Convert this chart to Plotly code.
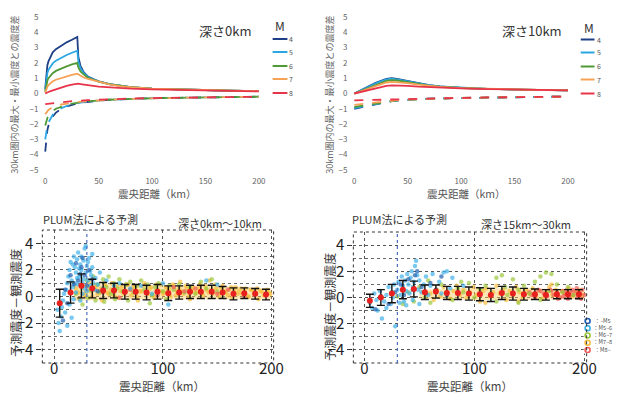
import plotly.graph_objects as go

W, H = 636, 394
FONT = "Noto Sans CJK JP"

# ---------------- Top panels data ----------------
mags = ["4", "5", "6", "7", "8"]
mag_colors = ["#1f3f86", "#2aa6e2", "#4f9a35", "#f5a257", "#e8344a"]

dist0 = [0, 1, 2, 3, 5, 7, 10, 15, 20, 25, 30, 31, 33, 36, 40, 45, 50, 60, 70, 80, 100, 125, 150, 175, 200]
max0_m4 = [0.3, 1.4, 1.85, 2.1, 2.45, 2.7, 2.9, 3.15, 3.35, 3.52, 3.7, 2.4, 1.8, 1.4, 1.1, 0.95, 0.8, 0.62, 0.5, 0.42, 0.32, 0.26, 0.22, 0.18, 0.15]
max0_m5 = [0.2, 1.0, 1.35, 1.55, 1.8, 1.97, 2.15, 2.35, 2.52, 2.67, 2.8, 2.1, 1.65, 1.35, 1.08, 0.93, 0.8, 0.62, 0.5, 0.42, 0.32, 0.26, 0.22, 0.18, 0.15]
max0_m6 = [0.1, 0.6, 0.85, 1.0, 1.2, 1.33, 1.48, 1.65, 1.78, 1.9, 2.0, 1.7, 1.45, 1.25, 1.03, 0.9, 0.78, 0.61, 0.5, 0.42, 0.32, 0.26, 0.22, 0.18, 0.15]
max0_m7 = [0.05, 0.3, 0.45, 0.55, 0.7, 0.8, 0.9, 1.02, 1.12, 1.22, 1.3, 1.25, 1.15, 1.05, 0.95, 0.85, 0.75, 0.6, 0.49, 0.41, 0.31, 0.26, 0.21, 0.18, 0.15]
max0_m8 = [0.0, 0.05, 0.08, 0.1, 0.15, 0.2, 0.28, 0.4, 0.5, 0.58, 0.65, 0.64, 0.62, 0.58, 0.55, 0.5, 0.45, 0.4, 0.35, 0.32, 0.27, 0.23, 0.2, 0.17, 0.14]
min0_m4 = [-3.8, -2.8, -2.4, -2.1, -1.75, -1.5, -1.25, -1.0, -0.85, -0.73, -0.65, -0.64, -0.62, -0.58, -0.53, -0.49, -0.46, -0.41, -0.38, -0.35, -0.31, -0.28, -0.25, -0.23, -0.21]
min0_m5 = [-3.0, -2.4, -2.1, -1.9, -1.6, -1.4, -1.18, -0.96, -0.82, -0.71, -0.63, -0.62, -0.6, -0.57, -0.53, -0.49, -0.46, -0.41, -0.38, -0.35, -0.31, -0.28, -0.25, -0.23, -0.21]
min0_m6 = [-2.1, -1.8, -1.6, -1.45, -1.28, -1.15, -1.0, -0.85, -0.74, -0.66, -0.6, -0.59, -0.58, -0.56, -0.52, -0.48, -0.45, -0.41, -0.38, -0.35, -0.31, -0.28, -0.25, -0.23, -0.21]
min0_m7 = [-1.35, -1.25, -1.15, -1.08, -0.98, -0.9, -0.82, -0.72, -0.65, -0.6, -0.56, -0.55, -0.54, -0.53, -0.5, -0.47, -0.44, -0.4, -0.37, -0.35, -0.31, -0.28, -0.25, -0.23, -0.21]
min0_m8 = [-0.7, -0.69, -0.68, -0.67, -0.65, -0.63, -0.6, -0.56, -0.53, -0.5, -0.48, -0.48, -0.47, -0.46, -0.44, -0.42, -0.4, -0.37, -0.35, -0.33, -0.3, -0.27, -0.25, -0.23, -0.21]

dist10 = [0, 10, 20, 30, 35, 40, 50, 60, 70, 80, 100, 125, 150, 175, 200]
max10_m4 = [0.0, 0.35, 0.7, 0.95, 1.0, 0.95, 0.82, 0.68, 0.55, 0.47, 0.37, 0.3, 0.26, 0.23, 0.2]
max10_m5 = [0.0, 0.33, 0.67, 0.92, 0.97, 0.93, 0.8, 0.66, 0.54, 0.46, 0.37, 0.3, 0.26, 0.23, 0.2]
max10_m6 = [0.0, 0.28, 0.57, 0.82, 0.87, 0.85, 0.75, 0.63, 0.52, 0.45, 0.36, 0.3, 0.26, 0.23, 0.2]
max10_m7 = [0.0, 0.25, 0.5, 0.72, 0.76, 0.75, 0.68, 0.58, 0.5, 0.43, 0.35, 0.3, 0.26, 0.23, 0.2]
max10_m8 = [0.0, 0.18, 0.35, 0.5, 0.53, 0.53, 0.5, 0.45, 0.41, 0.38, 0.33, 0.29, 0.25, 0.22, 0.2]
min10_m4 = [-1.0, -0.85, -0.7, -0.55, -0.5, -0.46, -0.41, -0.37, -0.34, -0.32, -0.29, -0.26, -0.24, -0.22, -0.2]
min10_m5 = [-0.95, -0.82, -0.68, -0.54, -0.5, -0.46, -0.41, -0.37, -0.34, -0.32, -0.29, -0.26, -0.24, -0.22, -0.2]
min10_m6 = [-0.88, -0.77, -0.65, -0.52, -0.48, -0.45, -0.4, -0.37, -0.34, -0.32, -0.29, -0.26, -0.24, -0.22, -0.2]
min10_m7 = [-0.75, -0.67, -0.58, -0.5, -0.47, -0.44, -0.4, -0.36, -0.34, -0.32, -0.29, -0.26, -0.24, -0.22, -0.2]
min10_m8 = [-0.45, -0.44, -0.43, -0.41, -0.4, -0.39, -0.37, -0.35, -0.33, -0.31, -0.28, -0.26, -0.24, -0.22, -0.2]

# ---------------- Bottom panels data ----------------
bins = [5, 15, 25, 35, 45, 55, 65, 75, 85, 95, 105, 115, 125, 135, 145, 155, 165, 175, 185, 195]
bl_mean = [-0.5, 0.3, 0.8, 0.6, 0.45, 0.45, 0.35, 0.35, 0.3, 0.35, 0.25, 0.3, 0.35, 0.35, 0.35, 0.3, 0.2, 0.25, 0.2, 0.15]
bl_err = [1.05, 0.8, 0.9, 0.7, 0.6, 0.55, 0.55, 0.55, 0.55, 0.55, 0.55, 0.5, 0.5, 0.5, 0.5, 0.45, 0.45, 0.4, 0.4, 0.4]
br_mean = [-0.25, 0.0, 0.3, 0.6, 0.65, 0.4, 0.45, 0.35, 0.35, 0.3, 0.25, 0.2, 0.35, 0.3, 0.25, 0.25, 0.2, 0.25, 0.25, 0.25]
br_err = [0.5, 0.6, 0.7, 0.7, 0.6, 0.55, 0.5, 0.5, 0.5, 0.5, 0.5, 0.5, 0.5, 0.5, 0.45, 0.4, 0.4, 0.35, 0.35, 0.35]

class_names = ["：~M5", "：M5~6", "：M6~7", "：M7~8", "：M8~"]
class_colors = ["#1f5fb0", "#3fb0e8", "#9cc83c", "#f7bd3c", "#f05a5a"]
class_rank = [5, 4, 3, 2, 1]

bl_band_x = [18, 30, 60, 100, 150, 200]
bl_band_lo = [-0.3, -0.3, -0.2, -0.2, -0.2, -0.2]
bl_band_hi = [0.9, 1.0, 0.9, 0.8, 0.8, 0.6]
br_band_x = [50, 100, 150, 200]
br_band_lo = [-0.1, -0.2, -0.2, -0.1]
br_band_hi = [0.6, 0.7, 0.7, 0.6]

bl_m5_x = [8, 10, 12, 15, 18, 20, 22, 24, 25, 26, 28, 30, 32, 35, 40]
bl_m5_y = [-1.8, 0.5, -0.5, 1.6, 0.9, 2.5, 1.2, 1.7, 2.2, 2.9, 1.6, 0.8, 2.0, 1.3, 0.4]
bl_m56_x = [3, 4, 5, 6, 7, 8, 9, 10, 11, 12, 12, 13, 14, 14, 15, 16, 16, 17, 17, 18, 18, 19, 19, 20, 20, 21, 21, 22, 22, 23,
            23, 24, 24, 25, 25, 26, 26, 27, 27, 28, 28, 29, 29, 30, 30, 31, 31, 32, 33, 33, 34, 35, 35, 36, 37, 38, 40, 42, 45, 48,
            55, 60, 70, 80, 90, 100, 105, 140, 150]
bl_m56_y = [-1.0, -2.0, -2.6, -1.5, -0.8, -0.3, 0.2, -1.2, 0.5, 1.0, -2.2, 1.5, 2.0, -0.6, 2.6, 1.2, -1.6, 0.7, 2.4, 3.0,
            -0.2, 2.2, 1.0, 1.8, 0.3, 2.8, 1.4, 3.3, 0.9, 1.5, 2.1, 2.4, -0.3, 2.0, 3.0, 1.0, 0.2, 2.7, 1.3, 3.6,
            0.6, 1.8, 3.8, 2.3, 0.4, 1.2, 2.6, 2.9, 0.8, 1.9, 1.6, 2.2, 3.2, 1.0, 0.5, 1.4, 0.9, 1.8, 0.6, 1.2,
            0.8, 1.0, 0.6, 0.8, 0.2, 1.0, -0.6, 1.2, 0.9]
bl_m67_x = [20, 25, 30, 33, 36, 40, 42, 45, 48, 50, 52, 55, 58, 60, 63, 66, 70, 73, 76, 80, 83, 86, 90, 93, 96, 100, 103, 106,
            110, 115, 120, 125, 130, 135, 140, 145, 150, 38, 46, 56, 68, 88, 26, 31]
bl_m67_y = [0.2, 0.8, 1.2, 0.5, 1.5, 0.9, 0.3, 1.3, 0.7, 1.5, 0.2, 1.0, 0.6, 1.3, 0.4, 0.9, 1.1, 0.3, 0.8, 1.2, 0.5, 0.9, 0.1,
            0.7, 1.0, 0.4, -0.2, 0.8, 0.5, 0.9, 0.3, 0.7, 0.2, 1.1, 0.6, 1.3, 0.4, -0.3, -0.4, -0.2, -0.3, -0.5, -0.6, -0.1]
bl_m78_x = [20, 23, 26, 29, 32, 35, 38, 41, 44, 47, 50, 53, 56, 59, 62, 65, 68, 71, 74, 77, 80, 83, 86, 89, 92, 95, 98, 101,
            104, 107, 110, 113, 116, 119, 122, 125, 128, 131, 134, 137, 140, 143, 146, 149, 152, 155, 158, 161, 164, 167,
            170, 173, 176, 179, 182, 185, 188, 191, 194, 197,
            22, 25, 28, 31, 34, 37, 40, 43, 46, 49, 52, 55, 58, 61, 64, 67, 70, 73, 76, 79, 82, 85, 88, 91, 94, 97, 100, 103,
            106, 109, 112, 115, 118, 121, 124, 127, 130, 133, 136, 139, 142, 145, 148, 151, 154, 157, 160, 163, 166, 169,
            172, 175, 178, 181, 184, 187, 190, 193, 196, 199]
bl_m78_y = [0.6, -0.2, 0.9, 0.3, 1.1, 0.0, 0.7, 0.4, -0.3, 0.8, 0.2, 1.0, 0.5, -0.1, 0.7, 0.3, 0.9, 0.1, 0.6, -0.3,
            0.4, 1.0, 0.2, 0.7, -0.1, 0.5, 0.9, 0.3, 0.6, 0.0, 0.8, 0.4, 1.1, 0.2, 0.6, -0.2, 0.7, 0.3, 0.9, 0.1,
            0.5, 1.2, 0.2, 0.6, 0.0, 0.8, 0.3, 0.5, -0.1, 0.7, 0.4, 0.2, 0.6, 0.0, 0.5, 0.3, -0.2, 0.4, 0.1, 0.3,
            0.3, 0.7, 0.1, 0.8, 0.4, 0.9, 0.2, 0.6, 1.0, 0.3, 0.5, 0.1, 0.8, 0.4, 0.2, 0.9, 0.5, 0.7, 0.0, 0.4,
            0.8, 0.3, 0.6, 0.1, 0.9, 0.4, 0.2, 0.7, 0.5, 0.9, 0.1, 0.6, 0.4, 0.8, 0.0, 0.5, 0.3, 0.6, 0.2, 0.8,
            0.3, 0.5, 0.9, 0.2, 0.6, 0.4, 0.1, 0.7, 0.5, 0.2, 0.6, 0.3, 0.0, 0.5, 0.2, 0.6, 0.4, 0.1, 0.5, 0.2]
bl_m8_x = [45, 70, 95, 120, 130, 150, 160, 175, 185, 195, 60, 110]
bl_m8_y = [0.3, 0.5, 0.1, 0.4, 0.6, 0.2, 0.5, 0.0, 0.3, 0.2, -0.1, 0.7]

br_m5_x = [10, 15, 22, 28, 33, 36, 40, 44, 48, 52, 56, 60, 65, 70, 75, 46]
br_m5_y = [-0.9, 0.1, -0.5, 0.4, 1.0, 0.2, 1.4, 0.6, 2.0, 0.8, 0.3, 1.1, 0.6, 1.6, 0.2, 1.7]
br_m56_x = [5, 7, 9, 11, 12, 14, 16, 18, 20, 22, 24, 25, 27, 28, 30, 31, 33, 34, 35, 36, 37, 38, 39, 40, 41, 42, 43, 44, 45,
            46, 47, 48, 49, 50, 52, 54, 56, 58, 60, 62, 65, 68, 70, 72, 75, 78, 80, 85, 90, 38, 44, 50, 20, 26, 32]
br_m56_y = [-0.4, -0.8, 0.3, -0.2, -1.0, 0.5, -1.6, -0.3, 0.2, 0.8, -0.5, 0.4, 1.0, -2.2, 0.6, 1.2, 0.2, 1.6, 0.9, -0.3,
            1.3, 0.5, 1.8, 1.0, 0.3, 1.5, 2.0, 0.8, 1.2, 2.4, 2.8, 1.7, 0.6, 1.3, 0.4, 1.0, 1.6, 0.2, 0.9, 1.8,
            0.5, 1.2, 0.3, 1.9, 2.0, 0.7, 1.5, 0.4, 0.9, -0.6, -0.2, -0.5, -0.8, 0.0, -0.4]
br_m67_x = [30, 35, 40, 45, 50, 55, 60, 65, 70, 75, 80, 85, 90, 95, 100, 105, 110, 115, 120, 125, 128, 130, 135, 140, 145,
            150, 155, 160, 165, 168, 170, 175, 180, 185, 190, 120, 140, 160, 58, 88]
br_m67_y = [0.1, -0.5, 0.4, -0.3, 0.8, 0.0, -0.4, 0.6, 1.0, 0.2, -0.2, 0.7, 0.4, 1.1, 0.0, 0.6, 0.9, 0.3, 1.5, 1.7,
            0.8, 0.2, 1.4, 0.6, 0.9, 0.3, 1.2, 1.6, 1.9, 0.5, 1.8, 1.0, 0.4, 0.8, 0.2, -0.3, -0.4, -0.2, 1.3, 1.2]
br_m78_x = [60, 63, 66, 69, 72, 75, 78, 81, 84, 87, 90, 93, 96, 99, 102, 105, 108, 111, 114, 117, 120, 123, 126, 129, 132,
            135, 138, 141, 144, 147, 150, 153, 156, 159, 162, 165, 168, 171, 174, 177, 180, 183, 186, 189, 192, 195, 198,
            110, 140, 170]
br_m78_y = [0.3, -0.2, 0.6, 0.1, 0.8, 0.4, -0.1, 0.5, 0.9, 0.2, 0.6, 0.0, 0.4, 0.8, 0.2, -0.3, 0.5, 0.7, 0.1, 0.4,
            0.9, 0.3, 0.6, -0.2, 0.5, 0.2, 0.8, 0.4, 0.0, 0.6, 0.3, 0.7, 0.1, 0.5, -0.1, 0.4, 0.8, 0.2, 0.6, 0.0,
            0.5, 0.3, 0.7, 0.1, 0.4, 0.6, 0.2, -0.4, -0.3, 1.0]
br_m8_x = [145, 150, 155, 160, 163, 166, 169, 172, 175, 178, 180, 182, 184, 186, 188, 190, 192, 194, 196, 198, 200, 176,
           185, 193, 158, 170, 181, 189, 197, 152]
br_m8_y = [0.2, 0.4, 0.0, 0.5, 0.3, 0.1, 0.6, 0.2, 0.4, 0.0, 0.5, 0.3, 0.6, 0.1, 0.4, 0.2, 0.5, 0.0, 0.3, 0.6, 0.2, -0.1,
           -0.1, 0.7, 0.6, 0.5, 0.1, 0.6, -0.1, 0.2]

x_ticks_top = [0, 50, 100, 150, 200]
y_ticks_top = [-5, -4, -3, -2, -1, 0, 1, 2, 3, 4, 5]
x_ticks_bot = [0, 100, 200]
y_ticks_bot = [-4, -2, 0, 2, 4]


def px(x):
    return x / W


def py(y):
    return 1 - y / H


fig = go.Figure()

# ---- top panels lines ----
top_max0 = [max0_m4, max0_m5, max0_m6, max0_m7, max0_m8]
top_min0 = [min0_m4, min0_m5, min0_m6, min0_m7, min0_m8]
top_max10 = [max10_m4, max10_m5, max10_m6, max10_m7, max10_m8]
top_min10 = [min10_m4, min10_m5, min10_m6, min10_m7, min10_m8]

for i in range(5):
    fig.add_trace(go.Scatter(x=dist0, y=top_min0[i], mode="lines", xaxis="x", yaxis="y",
                             line=dict(color=mag_colors[i], width=1.8, dash="dash"), showlegend=False))
for i in range(5):
    fig.add_trace(go.Scatter(x=dist0, y=top_max0[i], mode="lines", xaxis="x", yaxis="y",
                             line=dict(color=mag_colors[i], width=1.8), showlegend=False))
for i in range(5):
    fig.add_trace(go.Scatter(x=dist10, y=top_min10[i], mode="lines", xaxis="x2", yaxis="y2",
                             line=dict(color=mag_colors[i], width=1.8, dash="dash"), showlegend=False))
for i in range(5):
    fig.add_trace(go.Scatter(x=dist10, y=top_max10[i], mode="lines", xaxis="x2", yaxis="y2",
                             line=dict(color=mag_colors[i], width=1.8), showlegend=False))


# ---- bottom panels ----
def add_band(bx, lo, hi, xa, ya):
    fig.add_trace(go.Scatter(x=bx, y=lo, mode="lines", line=dict(width=0, color="rgba(0,0,0,0)"),
                             xaxis=xa, yaxis=ya, showlegend=False, hoverinfo="skip"))
    fig.add_trace(go.Scatter(x=bx, y=hi, mode="lines", line=dict(width=0, color="rgba(0,0,0,0)"),
                             fill="tonexty", fillcolor="rgba(250,200,90,0.45)",
                             xaxis=xa, yaxis=ya, showlegend=False, hoverinfo="skip"))


def add_pts(xs, ys, color, xa, ya, size=4.5, op=0.7):
    fig.add_trace(go.Scatter(x=xs, y=ys, mode="markers", xaxis=xa, yaxis=ya, showlegend=False,
                             marker=dict(color=color, size=size, opacity=op, line=dict(width=0))))


add_band(bl_band_x, bl_band_lo, bl_band_hi, "x3", "y3")
add_pts(bl_m78_x, bl_m78_y, class_colors[3], "x3", "y3")
add_pts(bl_m67_x, bl_m67_y, class_colors[2], "x3", "y3")
add_pts(bl_m8_x, bl_m8_y, class_colors[4], "x3", "y3")
add_pts(bl_m56_x, bl_m56_y, class_colors[1], "x3", "y3")
add_pts(bl_m5_x, bl_m5_y, class_colors[0], "x3", "y3")

add_band(br_band_x, br_band_lo, br_band_hi, "x4", "y4")
add_pts(br_m78_x, br_m78_y, class_colors[3], "x4", "y4")
add_pts(br_m8_x, br_m8_y, class_colors[4], "x4", "y4")
add_pts(br_m67_x, br_m67_y, class_colors[2], "x4", "y4")
add_pts(br_m56_x, br_m56_y, class_colors[1], "x4", "y4")
add_pts(br_m5_x, br_m5_y, class_colors[0], "x4", "y4")

for xa, ya, mean, err in [("x3", "y3", bl_mean, bl_err), ("x4", "y4", br_mean, br_err)]:
    fig.add_trace(go.Scatter(x=bins, y=mean, mode="markers", xaxis=xa, yaxis=ya, showlegend=False,
                             marker=dict(color="#e8201e", size=6),
                             error_y=dict(type="data", array=err, color="#111", thickness=1.4, width=4)))

# class legend markers (tiny overlay axis)
fig.add_trace(go.Scatter(x=[0.5] * 5, y=class_rank, mode="markers", xaxis="x5", yaxis="y5", showlegend=False,
                         marker=dict(symbol="circle-open", size=5, color=class_colors, line=dict(width=1.6))))

# ---- axes ----
top_common = dict(showgrid=False, zeroline=False, showline=False, ticks="",
                  tickfont=dict(family=FONT, size=8, color="#666"))
bot_x_common = dict(range=[-11, 202], tickvals=x_ticks_bot, showgrid=True, gridcolor="#555", griddash="dot",
                    gridwidth=1, zeroline=False, showline=False, ticks="", ticklabelstandoff=-5,
                    tickfont=dict(family=FONT, size=15, color="#222"))
bot_y_common = dict(range=[-5, 5], tickvals=y_ticks_bot, showgrid=True, gridcolor="#555", griddash="dot",
                    gridwidth=1, zeroline=False, showline=False, ticks="outside", ticklen=5, tickcolor="#333",
                    tickfont=dict(family=FONT, size=15, color="#222"),
                    minor=dict(dtick=1, showgrid=True, gridcolor="#666", griddash="dot", gridwidth=1))

fig.update_layout(
    width=W, height=H, margin=dict(l=0, r=0, t=0, b=0),
    paper_bgcolor="white", plot_bgcolor="white",
    font=dict(family=FONT),
    xaxis=dict(domain=[px(40), px(272)], range=[-5.5, 208.3], tickvals=x_ticks_top, anchor="y",
               ticklabelstandoff=-3, **top_common),
    yaxis=dict(domain=[py(177.5), py(9.5)], range=[-5.5, 5.5], tickvals=y_ticks_top, anchor="x", **top_common),
    xaxis2=dict(domain=[px(354), px(586)], range=[-5.5, 208.3], tickvals=x_ticks_top, anchor="y2",
                ticklabelstandoff=-3, **top_common),
    yaxis2=dict(domain=[py(177.5), py(9.5)], range=[-5.5, 5.5], tickvals=y_ticks_top, anchor="x2", **top_common),
    xaxis3=dict(domain=[px(43), px(278)], anchor="y3", **bot_x_common),
    yaxis3=dict(domain=[py(363), py(230)], anchor="x3", **bot_y_common),
    xaxis4=dict(domain=[px(359), px(596)], anchor="y4", **dict(bot_x_common, range=[-10, 202])),
    yaxis4=dict(domain=[py(363), py(232)], anchor="x4", **bot_y_common),
    xaxis5=dict(domain=[px(593), px(601)], range=[0, 1], visible=False, anchor="y5"),
    yaxis5=dict(domain=[py(353.6), py(317.4)], range=[0.5, 5.5], visible=False, anchor="x5"),
)

shapes = []
for xa, ya in [("x3", "y3"), ("x4", "y4")]:
    shapes.append(dict(type="rect", xref=f"{xa} domain", yref=f"{ya} domain", x0=0, x1=1, y0=0, y1=1,
                       line=dict(color="#333", width=1, dash="dot")))
    shapes.append(dict(type="line", xref=xa, yref=f"{ya} domain", x0=30, x1=30, y0=0, y1=1,
                       line=dict(color="#4a6fc0", width=1.2, dash="dot")))

# top legends (line keys)
leg_rows = [39, 52, 66, 79, 93]
for i in range(5):
    shapes.append(dict(type="line", xref="paper", yref="paper", x0=px(277), x1=px(292),
                       y0=py(leg_rows[i]), y1=py(leg_rows[i]), line=dict(color=mag_colors[i], width=2)))
    shapes.append(dict(type="line", xref="paper", yref="paper", x0=px(590), x1=px(604),
                       y0=py(leg_rows[i] + 0.5), y1=py(leg_rows[i] + 0.5), line=dict(color=mag_colors[i], width=2)))
fig.update_layout(shapes=shapes)

ann = []


def T(x, y, text, size, color="#444", angle=0, xanchor="center"):
    ann.append(dict(x=px(x), y=py(y), xref="paper", yref="paper", text=text, showarrow=False,
                    textangle=angle, xanchor=xanchor, yanchor="middle", borderpad=0,
                    font=dict(family=FONT, size=size, color=color)))


ylabel_top = "30km圏内の最大・最小震度との震度差"
xlabel = "震央距離（km）"
ylabel_bot = "予測震度－観測震度"

# top-left
T(14, 95, ylabel_top, 9, "#666", -90)
T(160, 193, xlabel, 10.5, "#555")
T(229, 30, "深さ0km", 13, "#333")
T(284, 25, "M", 12, "#333")
# top-right
T(334, 95, ylabel_top, 9, "#666", -90)
T(474, 193, xlabel, 10.5, "#555")
T(541, 31, "深さ10km", 13, "#333")
T(598, 27, "M", 12, "#333")
for i in range(5):
    T(296, leg_rows[i], mags[i], 7, "#555")
    T(609, leg_rows[i] + 0.5, mags[i], 7, "#555")

# bottom-left
T(43, 219, "PLUM法による予測", 11, "#333", xanchor="left")
T(180, 223, "深さ0km～10km", 11, "#333", xanchor="left")
T(15, 303, ylabel_bot, 12, "#333", -90)
T(165, 386, xlabel, 11.5, "#444")
# bottom-right
T(357, 219, "PLUM法による予測", 11, "#333", xanchor="left")
T(488, 224, "深さ15km～30km", 11, "#333", xanchor="left")
T(334, 307, ylabel_bot, 12, "#333", -90)
T(478, 386, xlabel, 11.5, "#444")

# bottom-right class legend labels (single block)
T(601, 335.5, "<br>".join(class_names), 5.5, "#444", xanchor="left")

fig.update_layout(annotations=ann)

fig.write_html("out.html", config={"displayModeBar": False},
               post_script="document.body.style.margin='0';")
